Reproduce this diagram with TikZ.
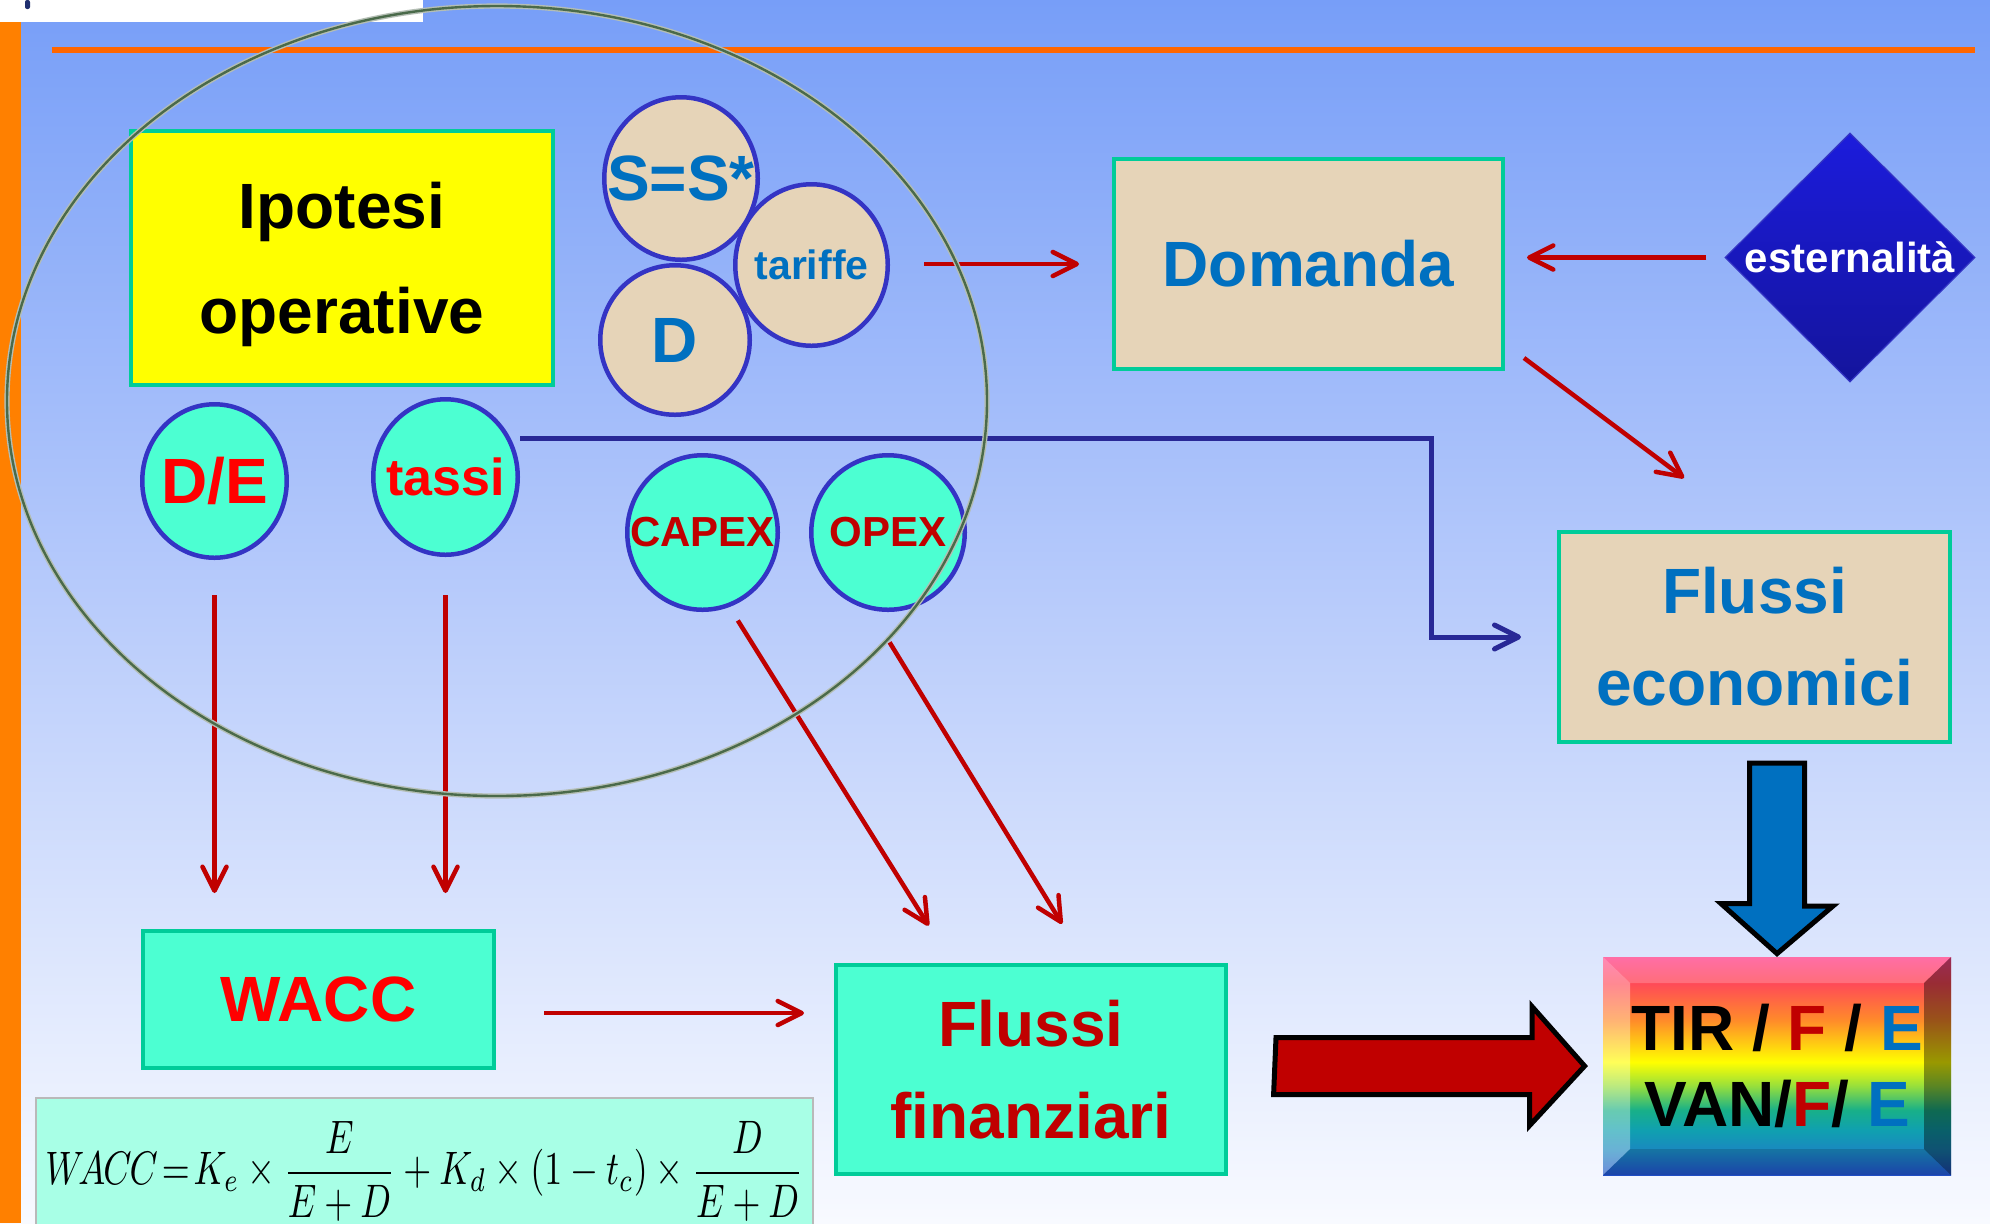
\documentclass[tikz,border=0pt]{standalone}
\usepackage{fontspec}
\setmainfont{Liberation Sans}
\usetikzlibrary{calc,positioning,shapes.geometric,arrows.meta}

\definecolor{bgtop}{HTML}{779EF8}
\definecolor{bgmid}{HTML}{B9CCFB}
\definecolor{bgbot}{HTML}{F8FAFF}
\definecolor{stripor}{HTML}{FF8000}
\definecolor{navymark}{HTML}{1F2F6F}
\definecolor{orangeline}{HTML}{FF6600}
\definecolor{boxedge}{HTML}{00CC99}
\definecolor{beige}{HTML}{E6D4B8}
\definecolor{aqua}{HTML}{4CFFD2}
\definecolor{ringblue}{HTML}{3434C4}
\definecolor{txtblue}{HTML}{0070C0}
\definecolor{darkred}{HTML}{C00000}
\definecolor{lineblue}{HTML}{282896}
\definecolor{eqfill}{HTML}{A8FFE6}
\definecolor{ringgreen}{HTML}{4A6A4A}
\definecolor{ringgray}{HTML}{B4BEB4}
\definecolor{pureyellow}{HTML}{FFFF00}
\definecolor{exttop}{HTML}{1C1CDC}
\definecolor{extbot}{HTML}{14149C}
% rainbow of the result box, bottom to top
\definecolor{rbA}{HTML}{2050C8}
\definecolor{rbB}{HTML}{1A88C0}
\definecolor{rbC}{HTML}{10A0B0}
\definecolor{rbD}{HTML}{18B088}
\definecolor{rbE}{HTML}{9AE03A}
\definecolor{rbF}{HTML}{FFFF00}
\definecolor{rbG}{HTML}{FF8A2A}
\definecolor{rbH}{HTML}{FF4A58}
\definecolor{rbI}{HTML}{FF4A90}
\pgfdeclareverticalshading{rainbow}{100bp}{color(0bp)=(rbA); color(25bp)=(rbA);
  color(30.7bp)=(rbB); color(35.3bp)=(rbC); color(39.9bp)=(rbD); color(45.6bp)=(rbE);
  color(50.9bp)=(rbF); color(60.6bp)=(rbG); color(69bp)=(rbH); color(75bp)=(rbI); color(100bp)=(rbI)}

\newcommand{\zw}[1]{\makebox[0pt]{#1}}

\tikzset{
    wh/.style 2 args={minimum width=#1,minimum height=#2},
    box/.style={draw=boxedge,line width=2pt,inner sep=0pt,align=center},
    ipobox/.style={box,fill=pureyellow,text depth=0pt,font=\fontsize{32}{52.5}\selectfont\bfseries},
    ecobox/.style={box,fill=beige,text=txtblue,font=\fontsize{32}{46}\selectfont\bfseries},
    finbox/.style={box,fill=aqua,text=darkred,font=\fontsize{32}{46}\selectfont\bfseries},
    bubble/.style={ellipse,draw=ringblue,line width=2.25pt,inner sep=0pt},
    sbubble/.style={bubble,fill=beige,text=txtblue},
    tbubble/.style={bubble,fill=aqua},
    extdiamond/.style={diamond,aspect=1,inner sep=0pt,draw=ringblue,line width=0.6pt,
        top color=exttop,bottom color=extbot,text=white,font=\fontsize{21}{25}\selectfont\bfseries},
    tirbox/.style={inner sep=0pt,shading=rainbow,align=center,font=\fontsize{32}{38}\selectfont\bfseries},
    eqbox/.style={draw=gray!55,line width=1pt,fill=eqfill,inner sep=0pt},
    redarr/.style={draw=darkred,line width=2.25pt,-{Straight Barb[length=12pt,width=12pt,round]}},
    bluearr/.style={draw=lineblue,line width=2.5pt,-{Straight Barb[length=12pt,width=12pt,round]}},
    bigarrow/.style={draw=black,line width=2.5pt,line join=miter}
}

\begin{document}
\begin{tikzpicture}[x=0.5pt,y=-0.5pt]
    \useasboundingbox (0,0) rectangle (1990,1223);
    % slide background
    \fill[top color=bgtop,bottom color=bgbot,middle color=bgmid] (0,0) rectangle (1990,1223);
    \fill[stripor] (0,22) rectangle (21,1223);
    \fill[white] (0,0) rectangle (423,22);
    \fill[navymark,rounded corners=1pt] (25,0) rectangle (30,9);
    \draw[orangeline,line width=3pt] (52,50) -- (1975,50);

    \node[ipobox,wh={211pt}{127pt}] (ipo) at (342,258) {Ipotesi\\operative};

    \node[sbubble,wh={76.75pt}{81.25pt},font=\fontsize{32}{38}\selectfont\bfseries] (SS) at (681,178.5) {\zw{S=S*}};
    \node[sbubble,wh={76.25pt}{80.75pt},font=\fontsize{20.5}{24}\selectfont\bfseries] (tar) at (811.5,265) {\zw{tariffe}};
    \node[sbubble,wh={74.75pt}{74.75pt},font=\fontsize{32}{38}\selectfont\bfseries] (Dd) at (675,340) {\zw{D}};

    \node[tbubble,wh={72.25pt}{76.75pt},text=red,font=\fontsize{32}{38}\selectfont\bfseries] (DE) at (214.5,481) {\zw{D/E}};
    \node[tbubble,wh={72.25pt}{77.75pt},text=red,font=\fontsize{26}{30}\selectfont\bfseries] (tas) at (445.5,477) {\zw{tassi}};
    \node[tbubble,wh={75.25pt}{77.25pt},text=darkred,font=\fontsize{21}{25}\selectfont\bfseries] (CAP) at (702.5,532.5) {\zw{CAPEX}};
    \node[tbubble,wh={76.75pt}{77.25pt},text=darkred,font=\fontsize{21}{25}\selectfont\bfseries] (OPE) at (888,532.5) {\zw{OPEX}};

    \node[ecobox,wh={194.5pt}{105pt}] (Dom) at (1308.5,264) {Domanda};
    \node[extdiamond,wh={125pt}{124.5pt}] (ext) at (1850,257.5) {\zw{esternalità}};
    \node[ecobox,wh={195.5pt}{105pt}] (FE) at (1754.5,637) {Flussi\\economici};

    \node[finbox,text=red,wh={175.5pt}{68.5pt}] (WACC) at (318.5,999.5) {WACC};
    \node[finbox,wh={195pt}{104.5pt}] (FF) at (1031,1069.5) {Flussi\\finanziari};
    \node[eqbox,wh={388.5pt}{73pt}] (eq) at (424.5,1171)
        {\resizebox*{379pt}{50pt}{$\displaystyle W\mkern-3mu A\mkern-1mu C\mkern-1mu C\!=\!K_e\times\frac{E}{E+D}+K_d\times(1-t_c)\times\frac{D}{E+D}$}};

    \node[tirbox,wh={174pt}{109pt},
        path picture={
            \fill[white,opacity=.2] (path picture bounding box.north west) -- (path picture bounding box.north east)
                -- ($(path picture bounding box.north east)+(-27,26)$) -- ($(path picture bounding box.north west)+(27,26)$) -- cycle;
            \fill[white,opacity=.35] (path picture bounding box.north west) -- ($(path picture bounding box.north west)+(27,26)$)
                -- ($(path picture bounding box.south west)+(27,-26)$) -- (path picture bounding box.south west) -- cycle;
            \fill[black,opacity=.4] (path picture bounding box.north east) -- ($(path picture bounding box.north east)+(-27,26)$)
                -- ($(path picture bounding box.south east)+(-27,-26)$) -- (path picture bounding box.south east) -- cycle;
            \fill[black,opacity=.15] (path picture bounding box.south west) -- ($(path picture bounding box.south west)+(27,-26)$)
                -- ($(path picture bounding box.south east)+(-27,-26)$) -- (path picture bounding box.south east) -- cycle;
        }] (TIR) at (1777,1066)
        {TIR / \textcolor{darkred}{F} / \textcolor{txtblue}{E}\\VAN/\textcolor{darkred}{F}/ \textcolor{txtblue}{E}};

    % thin connectors
    \draw[redarr,shorten <=17pt,shorten >=16.5pt] (tar.east |- Dom.west) -- (Dom.west);
    \draw[redarr,shorten <=9pt,shorten >=11pt] (ext.west) -- (ext.west -| Dom.east);
    \draw[redarr] ($(Dom.south east)+(19,-13)$) -- ($(FE.north west)+(127,-52)$);
    \draw[redarr,shorten <=17.5pt,shorten >=18pt] (DE.south) -- (DE.south |- WACC.north);
    \draw[redarr,shorten <=19pt,shorten >=18pt] (tas.south) -- (tas.south |- WACC.north);
    \draw[redarr,shorten <=5pt,shorten >=22pt] ($(CAP.south)+(30,0)$) -- ($(FF.north west)+(118,0)$);
    \draw[redarr,shorten <=17.8pt,shorten >=23pt] ($(OPE.south)+(-17,0)$) -- ($(FF.north west)+(252,0)$);
    \coordinate (wout) at ($(WACC.east)+(0,13.5)$);
    \draw[redarr,shorten <=24pt,shorten >=15pt] (wout) -- (wout -| FF.west);
    \coordinate (tasout) at ($(tas.east)+(0,-39)$);
    \draw[bluearr,shorten >=18pt] (tasout) -- ++(911,0) |- (FE.west);

    % block arrows
    \coordinate (rtip) at ($(TIR.west)+(-18,0)$);
    \draw[bigarrow,fill=darkred] ($(FF.east |- rtip)+(48,-28.5)$) -- ++(256,0) -- ++(0,-31)
        -- (rtip) -- ++(-55,59.5) -- ++(0,-31) -- ++(-256,0) -- cycle;
    \coordinate (btip) at ($(TIR.north)+(0,-3)$);
    \draw[bigarrow,fill=txtblue] ($(btip |- FE.south)+(-27.5,19)$) -- ++(55,0) -- ++(0,143)
        -- ++(28.5,0) -- (btip) -- ++(-56,-50) -- ++(28.5,0) -- cycle;

    % grouping ring
    \draw[ringgray,double=ringgreen,line width=0.7pt,double distance=1.2pt] (497,401) ellipse [x radius=245pt,y radius=197.5pt];
\end{tikzpicture}
\end{document}
